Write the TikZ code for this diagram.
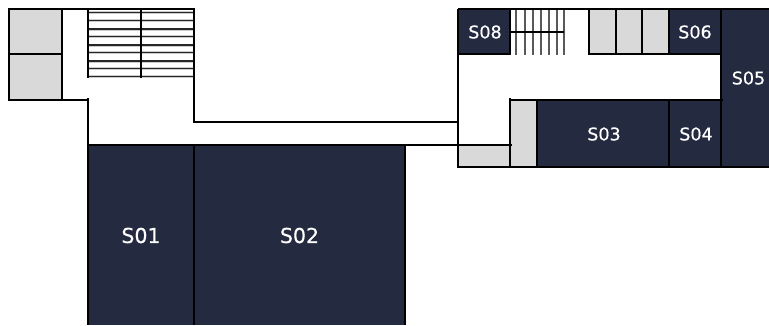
\documentclass[tikz,border=0pt]{standalone}
\usepackage{fontspec}
\setmainfont{DejaVu Sans}
\definecolor{room}{HTML}{242A40}
\definecolor{store}{HTML}{D9D9D9}
\tikzset{
  x=1pt,y=-1pt,
  wall/.style={draw=black,line width=2pt,line cap=butt},
  thinwall/.style={draw=black,line width=1.7pt},
  bigroom/.style={text=white,font=\fontsize{20.5}{24}\selectfont\addfontfeature{FakeBold=0.5}},
  smallroom/.style={text=white,font=\fontsize{17.5}{20}\selectfont\addfontfeature{FakeBold=0.5}},
  treadh/.style={draw=black!85,line width=1.2pt},
  halo/.style={draw=black!20,line width=3pt},
  treadv/.style={draw=black!65,line width=2.1pt},
}
\begin{document}
\begin{tikzpicture}
\useasboundingbox (0,0) rectangle (769,325);
% fills
\fill[store] (9,9) rectangle (62,100);
\fill[store] (589,9) rectangle (669,54);
\fill[store] (510,100) rectangle (537,168);
\fill[store] (458,145) rectangle (510,168);
\fill[room] (88,145) rectangle (405,325);
\fill[room] (458,9) rectangle (510,54);
\fill[room] (669,9) rectangle (721,54);
\fill[room] (721,9) rectangle (769,168);
\fill[room] (537,100) rectangle (721,168);
% left stairs
\foreach \y in {12.3,20.5,29,36.7,45,52.7,61,68.7,76.5}{
  \draw[halo] (88,\y) -- (194,\y);
}
\foreach \y in {12.3,20.5,29,36.7,45,52.7,61,68.7,76.5}{
  \draw[treadh] (88,\y) -- (194,\y);
}
% right stairs
\foreach \x in {516,525,532.7,540.7,548.7,557.3,564}{
  \draw[treadv] (\x,9) -- (\x,55);
}
\draw[thinwall] (510,32) -- (564,32);
% walls: upper left
\draw[wall] (62,100) -- (9,100) -- (9,9) -- (194,9) -- (194,122) -- (458,122);
\draw[wall] (9,53.5) -- (62,53.5);
\draw[wall] (62,9) -- (62,100) -- (88,100);
\draw[wall] (88,98) -- (88,325);
\draw[wall] (88,9) -- (88,78);
\draw[wall] (141,9) -- (141,78);
% walls: lower left
\draw[wall] (88,145) -- (512,145);
\draw[wall] (194,145) -- (194,325);
\draw[wall] (405,145) -- (405,325);
% walls: right wing
\draw[thinwall] (458,9) -- (769,9);
\draw[thinwall] (458,9) -- (458,168);
\draw[thinwall] (458,167) -- (769,167);
\draw[thinwall] (458,54) -- (511,54);
\draw[thinwall] (510,9) -- (510,55);
\draw[thinwall] (589,9) -- (589,55);
\draw[thinwall] (616,9) -- (616,55);
\draw[thinwall] (642,9) -- (642,55);
\draw[thinwall] (669,9) -- (669,55);
\draw[thinwall] (589,54) -- (721,54);
\draw[thinwall] (721,9) -- (721,168);
\draw[thinwall] (510,98) -- (510,168);
\draw[thinwall] (510,100) -- (723,100);
\draw[thinwall] (537,100) -- (537,168);
\draw[thinwall] (669,100) -- (669,168);
% labels
\node[bigroom] (s01) at (141,235.5) {S01};
\node[bigroom] (s02) at (299.5,235.5) {S02};
\node[smallroom] (s03) at (604,134) {S03};
\node[smallroom] (s04) at (696,134) {S04};
\node[smallroom] (s05) at (748.5,78) {S05};
\node[smallroom] (s06) at (695,32) {S06};
\node[smallroom] (s08) at (485,32) {S08};
\end{tikzpicture}
\end{document}
